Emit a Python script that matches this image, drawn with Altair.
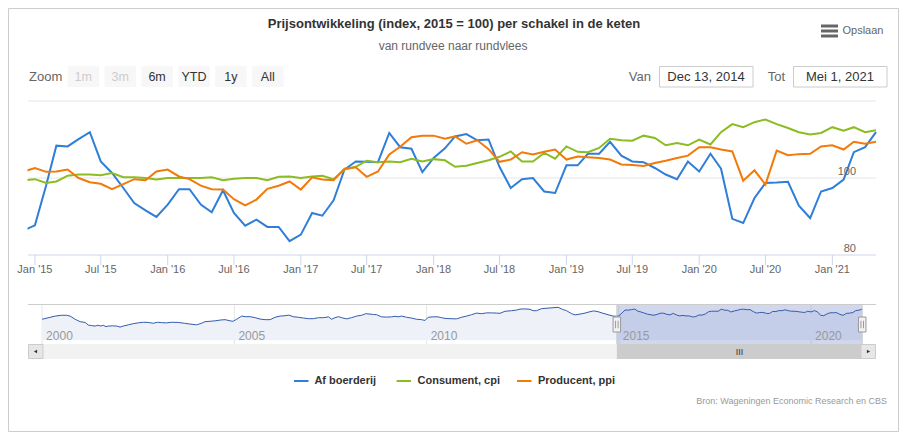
import altair as alt
import pandas as pd

FONT = "Liberation Sans, Arial, Helvetica, sans-serif"

# ---------------- data ----------------
months = pd.date_range("2014-12-01", "2021-05-01", freq="MS").strftime("%Y-%m-%d").tolist()

af_boerderij = [86.4,
    87.7, 98.1, 108.4, 108.2, 110.1, 111.9, 104.3, 101.3, 97.4, 93.5, 91.6, 89.9,
    93.1, 97.1, 97.1, 93.1, 91.1, 96.8, 90.9, 87.6, 89.2, 87.3, 87.3, 83.6,
    85.3, 90.9, 90.2, 94.2, 102.2, 104.3, 104.2, 104.1, 111.7, 108.0, 107.6, 101.5,
    105.2, 107.7, 110.8, 111.4, 109.8, 110.0, 102.9, 97.4, 99.7, 100.0, 96.5, 96.1,
    103.3, 103.3, 106.3, 106.3, 109.4, 105.8, 104.3, 104.1, 102.6, 100.9, 99.7, 104.3,
    101.7, 106.3, 102.4, 89.4, 88.3, 94.8, 98.7, 98.8, 99.0, 92.8, 89.6, 96.5,
    97.4, 99.6, 106.7, 108.0, 111.9]

consument_cpi = [99.4,
    99.7, 98.7, 99.1, 100.6, 100.9, 100.9, 100.7, 101.3, 100.2, 100.2, 100.0, 99.6,
    100.0, 100.0, 100.0, 100.0, 100.2, 99.4, 99.8, 100.0, 100.0, 99.4, 100.3, 100.4,
    100.0, 100.4, 100.6, 99.7, 102.2, 102.9, 104.5, 104.1, 104.3, 104.1, 105.0, 104.3,
    104.9, 104.6, 102.9, 103.2, 103.9, 104.6, 105.5, 106.9, 104.3, 104.3, 106.5, 105.0,
    108.2, 106.8, 106.7, 107.8, 110.2, 109.8, 109.7, 111.0, 110.4, 108.5, 109.1, 108.5,
    110.0, 108.7, 111.9, 114.0, 113.2, 114.5, 115.2, 114.0, 113.0, 111.9, 111.3, 111.7,
    113.2, 112.3, 113.2, 111.9, 112.4]

producent_ppi = [101.7,
    102.6, 101.6, 101.7, 102.2, 100.0, 98.9, 98.5, 97.1, 98.4, 99.7, 99.4, 101.7,
    102.2, 100.4, 99.7, 98.0, 97.1, 97.0, 94.5, 92.9, 94.4, 97.2, 98.0, 99.1,
    97.0, 100.2, 99.6, 99.4, 102.4, 102.8, 100.3, 101.7, 106.1, 108.1, 110.6, 111.0,
    111.0, 110.2, 110.8, 108.9, 109.8, 107.5, 104.2, 104.8, 106.7, 106.1, 106.8, 107.4,
    104.8, 105.6, 105.4, 105.2, 104.8, 103.5, 103.4, 103.1, 103.9, 104.5, 105.2, 105.8,
    108.0, 108.0, 107.4, 106.9, 99.3, 102.0, 98.3, 107.1, 105.9, 106.2, 106.3, 108.2,
    108.5, 107.4, 109.4, 108.9, 109.4]

# navigator history of "Af boerderij" (read from the navigator, decimal years)
nav_hist_years = [
    2000.00, 2000.34, 2000.51, 2000.64, 2000.73, 2000.86, 2000.99,
    2001.12, 2001.20, 2001.29, 2001.38, 2001.45, 2001.53, 2001.59, 2001.66, 2001.72, 2001.83, 2001.94,
    2002.03, 2002.11, 2002.24, 2002.37, 2002.50, 2002.63, 2002.76, 2002.89,
    2003.00, 2003.11, 2003.24, 2003.37, 2003.54, 2003.70, 2003.85,
    2004.02, 2004.15, 2004.24, 2004.37, 2004.50, 2004.63, 2004.76, 2004.89, 2004.97,
    2005.06, 2005.19, 2005.28, 2005.41, 2005.54, 2005.67, 2005.80, 2005.93,
    2006.06, 2006.19, 2006.32, 2006.42, 2006.53, 2006.67, 2006.80, 2006.93,
    2007.06, 2007.19, 2007.32, 2007.45, 2007.53, 2007.62, 2007.71, 2007.79, 2007.92,
    2008.05, 2008.18, 2008.31, 2008.42, 2008.53, 2008.62, 2008.70, 2008.83, 2008.96,
    2009.09, 2009.18, 2009.26, 2009.35, 2009.48, 2009.61, 2009.74, 2009.87, 2009.96,
    2010.04, 2010.17, 2010.30, 2010.39, 2010.48, 2010.61, 2010.78, 2010.91,
    2011.04, 2011.17, 2011.30, 2011.43, 2011.56, 2011.69, 2011.82, 2011.91,
    2012.04, 2012.21, 2012.34, 2012.43, 2012.56, 2012.69, 2012.77, 2012.86, 2012.99,
    2013.16, 2013.29, 2013.42, 2013.53, 2013.64, 2013.77, 2013.86, 2013.99,
    2014.12, 2014.25, 2014.35, 2014.46, 2014.59, 2014.72, 2014.85]
nav_hist_values = [
    75.4, 86.8, 89.7, 89.7, 86.8, 75.4, 66.8,
    64.0, 54.6, 52.5, 51.1, 53.9, 51.0, 53.9, 48.9, 51.0, 51.8, 51.0,
    47.5, 51.0, 55.4, 59.7, 62.5, 64.7, 64.0, 61.1,
    64.7, 63.2, 62.5, 64.7, 64.0, 61.1, 58.2,
    55.4, 61.1, 66.8, 68.2, 69.7, 72.5, 74.0, 69.7, 68.2,
    75.4, 86.8, 84.7, 84.7, 81.1, 76.1, 74.0, 74.0,
    82.5, 86.8, 88.2, 90.4, 84.7, 82.5, 79.7, 77.5,
    77.5, 81.1, 81.1, 84.0, 75.4, 81.1, 84.7, 81.1, 76.8,
    81.1, 86.8, 89.7, 95.4, 94.0, 92.5, 91.8, 84.0, 83.2,
    84.0, 86.1, 84.0, 86.8, 82.5, 79.7, 75.4, 74.0, 71.1,
    82.5, 84.0, 84.0, 81.1, 78.5, 77.5, 76.8, 82.5,
    86.8, 91.8, 97.5, 95.4, 98.3, 98.3, 97.5, 96.8,
    104.0, 106.1, 108.3, 111.8, 112.6, 111.1, 106.1, 106.1, 113.3,
    115.4, 116.8, 118.3, 111.1, 106.1, 95.4, 91.1, 94.0,
    97.5, 102.5, 105.4, 102.5, 96.8, 91.8, 86.8]

series_names = ["Af boerderij", "Consument, cpi", "Producent, ppi"]
series_colors = ["#2f7ed8", "#8bbc21", "#f17a0a"]

tick_dates = ["2015-01-01", "2015-07-01", "2016-01-01", "2016-07-01", "2017-01-01",
              "2017-07-01", "2018-01-01", "2018-07-01", "2019-01-01", "2019-07-01",
              "2020-01-01", "2020-07-01", "2021-01-01"]
tick_labels = ["Jan '15", "Jul '15", "Jan '16", "Jul '16", "Jan '17", "Jul '17", "Jan '18",
               "Jul '18", "Jan '19", "Jul '19", "Jan '20", "Jul '20", "Jan '21"]
y_grid = [100, 120]
y_label_values = [80, 100]

nav_tick_dates = ["2000-01-01", "2005-01-01", "2010-01-01", "2015-01-01", "2020-01-01"]
nav_tick_labels = ["2000", "2005", "2010", "2015", "2020"]

selected_range = ["2014-12-13", "2021-05-01"]
nav_range = ["1999-08-20", "2021-09-09"]

zoom_buttons = ["1m", "3m", "6m", "YTD", "1y", "All"]
zoom_enabled = [False, False, True, True, True, True]


# ---------------- helpers ----------------
def ms(s):
    return int(pd.Timestamp(s, tz="UTC").value // 10**6)


def dec_to_date(y):
    base = pd.Timestamp(f"{int(y)}-01-01")
    return (base + pd.Timedelta(days=(y - int(y)) * 365.25)).strftime("%Y-%m-%d")


one = pd.DataFrame({"k": [0]})


def box(x0, x1, y0, y1, **kw):
    return alt.Chart(one).mark_rect(**kw).encode(
        x=alt.value(x0), x2=alt.value(x1), y=alt.value(y0), y2=alt.value(y1))


def label(x, y, text, **kw):
    kw.setdefault("font", FONT)
    return alt.Chart(one).mark_text(**kw).encode(
        x=alt.value(x), y=alt.value(y), text=alt.value(text))


def hline(x0, x1, y, color, width=1):
    return alt.Chart(one).mark_rule(color=color, strokeWidth=width).encode(
        x=alt.value(x0), x2=alt.value(x1), y=alt.value(y))


X_MAIN = alt.Scale(domain=[ms(selected_range[0]), ms(selected_range[1])], range=[20, 868])
Y_MAIN = alt.Scale(domain=[80, 120], range=[247, 93], nice=False, zero=False)
X_NAV = alt.Scale(domain=[ms(nav_range[0]), ms(nav_range[1])], range=[20, 868])
Y_NAV = alt.Scale(range=[332.3, 299.3], nice=False, zero=False)

# ---------------- main plot ----------------
main_df = pd.DataFrame({
    "date": months * 3,
    "value": af_boerderij + consument_cpi + producent_ppi,
    "series": [series_names[0]] * len(months) + [series_names[1]] * len(months)
              + [series_names[2]] * len(months),
})
tick_df = pd.DataFrame({"date": tick_dates, "label": tick_labels})

grid = alt.Chart(pd.DataFrame({"v": y_grid})).mark_rule(color="#e6e6e6").encode(
    y=alt.Y("v:Q", scale=Y_MAIN, axis=None), x=alt.value(20), x2=alt.value(868))
axis_line = alt.Chart(pd.DataFrame({"v": [80]})).mark_rule(color="#ccd6eb").encode(
    y=alt.Y("v:Q", scale=Y_MAIN, axis=None), x=alt.value(20), x2=alt.value(868))
lines = alt.Chart(main_df).mark_line(strokeWidth=2).encode(
    x=alt.X("date:T", scale=X_MAIN, axis=None),
    y=alt.Y("value:Q", scale=Y_MAIN, axis=None),
    color=alt.Color("series:N", scale=alt.Scale(domain=series_names, range=series_colors),
                    legend=None),
)
ticks = alt.Chart(tick_df).mark_rule(color="#ccd6eb").encode(
    x=alt.X("date:T", scale=X_MAIN, axis=None), y=alt.value(247), y2=alt.value(257))
tick_text = alt.Chart(tick_df).mark_text(font=FONT, fontSize=11, color="#666666").encode(
    x=alt.X("date:T", scale=X_MAIN, axis=None), y=alt.value(262), text="label:N")
ylab = alt.Chart(pd.DataFrame({"v": y_label_values, "t": [str(v) for v in y_label_values]})
                 ).mark_text(font=FONT, fontSize=11, color="#666666", align="right", dy=-6).encode(
    y=alt.Y("v:Q", scale=Y_MAIN, axis=None), x=alt.value(848), text="t:N")

main = alt.layer(grid, axis_line, lines, ticks, tick_text, ylab)

# ---------------- navigator ----------------
nav_df = pd.DataFrame({
    "date": [dec_to_date(y) for y in nav_hist_years] + months,
    "value": nav_hist_values + af_boerderij,
})
nav_tick_df = pd.DataFrame({"date": nav_tick_dates, "label": nav_tick_labels})
sel_df = pd.DataFrame({"a": [selected_range[0]], "b": [selected_range[1]]})
handle_df = pd.DataFrame({"date": selected_range})
mid_df = pd.DataFrame({"date": [(pd.Timestamp(selected_range[0]) +
                                 (pd.Timestamp(selected_range[1]) - pd.Timestamp(selected_range[0])) / 2
                                 ).strftime("%Y-%m-%d")]})

nav_grid = alt.Chart(nav_tick_df).mark_rule(color="#e6e6e6").encode(
    x=alt.X("date:T", scale=X_NAV, axis=None), y=alt.value(296.5), y2=alt.value(336))
nav_area = alt.Chart(nav_df).mark_area(color="#eef1f8").encode(
    x=alt.X("date:T", scale=X_NAV, axis=None),
    y=alt.Y("value:Q", scale=Y_NAV, axis=None), y2=alt.value(336))
nav_mask = alt.Chart(sel_df).mark_rect(color="#667fc2", opacity=0.3).encode(
    x=alt.X("a:T", scale=X_NAV, axis=None), x2="b:T", y=alt.value(296.5), y2=alt.value(336))
nav_line = alt.Chart(nav_df).mark_line(color="#335cad", strokeWidth=1).encode(
    x=alt.X("date:T", scale=X_NAV, axis=None),
    y=alt.Y("value:Q", scale=Y_NAV, axis=None))
nav_text = alt.Chart(nav_tick_df).mark_text(font=FONT, fontSize=12, color="#999999",
                                            align="left", dx=4).encode(
    x=alt.X("date:T", scale=X_NAV, axis=None), y=alt.value(328), text="label:N")
nav_edges = alt.Chart(handle_df).mark_rule(color="#cccccc").encode(
    x=alt.X("date:T", scale=X_NAV, axis=None), y=alt.value(296.5), y2=alt.value(336))
track = box(20, 868, 336, 351, color="#f2f2f2")
thumb = alt.Chart(sel_df).mark_rect(color="#cccccc").encode(
    x=alt.X("a:T", scale=X_NAV, axis=None), x2="b:T", y=alt.value(336), y2=alt.value(351))
btn_l = box(20.5, 35, 336.5, 350.5, fill="#e6e6e6", stroke="#cccccc", strokeWidth=1)
btn_r = box(853, 867.5, 336.5, 350.5, fill="#e6e6e6", stroke="#cccccc", strokeWidth=1)
arr_l = alt.Chart(one).mark_point(shape="triangle-left", filled=True, color="#333333", size=14,
                                  opacity=1).encode(x=alt.value(27.5), y=alt.value(343.5))
arr_r = alt.Chart(one).mark_point(shape="triangle-right", filled=True, color="#333333", size=14,
                                  opacity=1).encode(x=alt.value(860.5), y=alt.value(343.5))
rifles = alt.Chart(mid_df).mark_text(font=FONT, fontSize=9, color="#333333").encode(
    x=alt.X("date:T", scale=X_NAV, axis=None), y=alt.value(343.5), text=alt.value("III"))
handles = alt.Chart(handle_df).mark_point(
    shape="M-0.5,-1H0.5V1H-0.5Z M-0.17,-0.5V0.5 M0.17,-0.5V0.5",
    size=225, filled=False, fill="#f2f2f2", fillOpacity=1, stroke="#999999", strokeWidth=1,
    opacity=1).encode(x=alt.X("date:T", scale=X_NAV, axis=None), y=alt.value(316.5))
nav_top = hline(20, 868, 296.5, "#cccccc")

nav = alt.layer(nav_grid, nav_area, nav_mask, nav_line, nav_text, nav_edges, nav_top,
                track, thumb, btn_l, btn_r, arr_l, arr_r, rifles, handles)

# ---------------- chrome ----------------
chrome = []
chrome.append(box(0, 19.5, 85, 252, color="white"))  # clip the main plot's left edge
chrome.append(label(446, 16, "Prijsontwikkeling (index, 2015 = 100) per schakel in de keten",
                    fontSize=13, fontWeight="bold", color="#333333"))
chrome.append(label(445, 38, "van rundvee naar rundvlees", fontSize=12, color="#666666"))
for yy in (18, 23, 28):
    chrome.append(hline(813, 830, yy, "#666666", 3))
chrome.append(label(834.5, 23, "Opslaan", fontSize=11, color="#666666", align="left"))
chrome.append(label(21, 69, "Zoom", fontSize=13, color="#666666", align="left"))
for i, (b, en) in enumerate(zip(zoom_buttons, zoom_enabled)):
    x0 = 59.7 + i * 36.9
    chrome.append(box(x0, x0 + 31.3, 58, 79, color="#f7f7f7"))
    chrome.append(label(x0 + 15.6, 68.5, b, fontSize=12.5,
                        color="#333333" if en else "#cccccc"))
chrome.append(label(643, 69, "Van", fontSize=13, color="#666666", align="right"))
chrome.append(box(651.5, 745, 58.5, 79, fill="white", stroke="#cccccc", strokeWidth=1))
chrome.append(label(698, 68.5, "Dec 13, 2014", fontSize=13, color="#333333"))
chrome.append(label(777, 69, "Tot", fontSize=13, color="#666666", align="right"))
chrome.append(box(785.5, 879, 58.5, 79, fill="white", stroke="#cccccc", strokeWidth=1))
chrome.append(label(832, 68.5, "Mei 1, 2021", fontSize=13, color="#333333"))

legend_sym_x = [286, 388.6, 509]
legend_text_x = [306.4, 409.5, 530]
for nm, col, sx, tx in zip(series_names, series_colors, legend_sym_x, legend_text_x):
    chrome.append(hline(sx, sx + 14.5, 373, col, 2))
    chrome.append(label(tx, 373, nm, fontSize=11, fontWeight="bold", color="#333333",
                        align="left"))
chrome.append(label(879, 393, "Bron: Wageningen Economic Research en CBS", fontSize=9,
                    color="#999999", align="right"))
chrome.append(box(0.5, 890.5, 0.5, 423.5, fill="transparent", stroke="#cccccc", strokeWidth=1))

chart = alt.layer(main, nav, *chrome).resolve_scale(
    x="independent", y="independent", color="independent"
).properties(
    width=891, height=424, padding=0, autosize=alt.AutoSizeParams(type="none")
).configure_view(stroke=None)

chart.save("out.html", embed_options={"renderer": "svg", "actions": False})
